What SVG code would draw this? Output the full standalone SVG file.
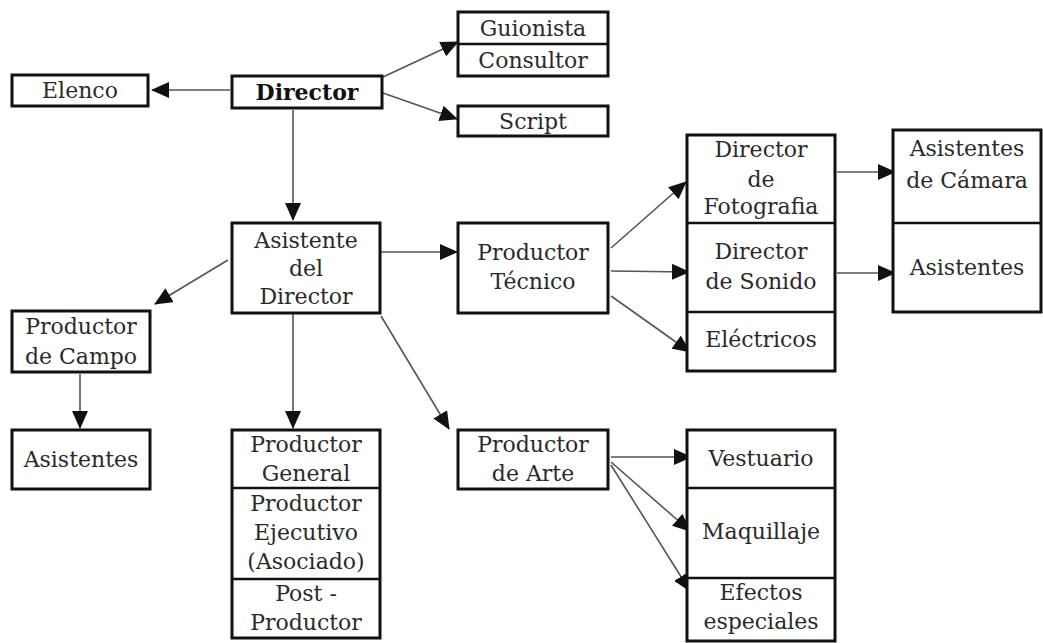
<svg xmlns="http://www.w3.org/2000/svg" width="1043" height="643" viewBox="0 0 1043 643">
<defs>
<style>
.b{fill:#fff;stroke:#111;stroke-width:3}
.d{stroke:#111;stroke-width:2.5}
text{font-family:"DejaVu Serif","Liberation Serif",serif;font-size:22px;fill:#2a2a2a;text-anchor:middle}
.bold{font-weight:bold;fill:#111}
.c line{stroke:#555;stroke-width:1.6;marker-end:url(#ah)}
</style>
<marker id="ah" markerUnits="userSpaceOnUse" markerWidth="18" markerHeight="16" refX="17" refY="8" orient="auto">
<path d="M0,0 L18,8 L0,16 z" fill="#111"/>
</marker>
</defs>
<rect width="1043" height="643" fill="#fff"/>
<g class="c" id="connectors">
<line x1="230" y1="90" x2="152" y2="90"/>
<line x1="383" y1="77" x2="458" y2="42"/>
<line x1="383" y1="93" x2="457" y2="119"/>
<line x1="293" y1="110" x2="293" y2="220"/>
<line x1="381" y1="252" x2="457" y2="252"/>
<line x1="228" y1="260" x2="155" y2="304"/>
<line x1="293" y1="314" x2="293" y2="428"/>
<line x1="381" y1="316" x2="449" y2="429"/>
<line x1="80" y1="374" x2="80" y2="428"/>
<line x1="611" y1="248" x2="686" y2="182"/>
<line x1="611" y1="271" x2="689" y2="272"/>
<line x1="611" y1="296" x2="690" y2="352"/>
<line x1="837" y1="172" x2="895" y2="172"/>
<line x1="837" y1="273" x2="895" y2="273"/>
<line x1="611" y1="457" x2="691" y2="457"/>
<line x1="611" y1="462" x2="690" y2="531"/>
<line x1="611" y1="465" x2="690" y2="591"/>
</g>
<g id="guionista-consultor">
<rect class="b" x="458" y="12" width="150" height="64"/>
<line class="d" x1="458" y1="44" x2="608" y2="44"/>
<text x="533" y="36">Guionista</text>
<text x="533" y="68">Consultor</text>
</g>
<g id="elenco">
<rect class="b" x="12" y="75" width="136" height="31"/>
<text x="80" y="98">Elenco</text>
</g>
<g id="director">
<rect class="b" x="232" y="76" width="150" height="32"/>
<text class="bold" x="307" y="100">Director</text>
</g>
<g id="script">
<rect class="b" x="458" y="106" width="150" height="30"/>
<text x="533" y="129">Script</text>
</g>
<g id="asistente-director">
<rect class="b" x="232" y="223" width="148" height="90"/>
<text x="306" y="248">Asistente</text>
<text x="306" y="276">del</text>
<text x="306" y="304">Director</text>
</g>
<g id="productor-tecnico">
<rect class="b" x="458" y="223" width="150" height="90"/>
<text x="533" y="260">Productor</text>
<text x="533" y="289">Técnico</text>
</g>
<g id="direccion-tecnica">
<rect class="b" x="687" y="135" width="148" height="236"/>
<line class="d" x1="687" y1="223" x2="835" y2="223"/>
<line class="d" x1="687" y1="312" x2="835" y2="312"/>
<text x="761" y="157">Director</text>
<text x="761" y="187">de</text>
<text x="761" y="214">Fotografia</text>
<text x="761" y="259">Director</text>
<text x="761" y="289">de Sonido</text>
<text x="761" y="347">Eléctricos</text>
</g>
<g id="asistentes-camara">
<rect class="b" x="893" y="130" width="148" height="182"/>
<line class="d" x1="893" y1="223" x2="1041" y2="223"/>
<text x="967" y="156">Asistentes</text>
<text x="967" y="188">de Cámara</text>
<text x="967" y="275">Asistentes</text>
</g>
<g id="productor-campo">
<rect class="b" x="12" y="311" width="138" height="61"/>
<text x="81" y="334">Productor</text>
<text x="81" y="364">de Campo</text>
</g>
<g id="asistentes-campo">
<rect class="b" x="12" y="430" width="138" height="59"/>
<text x="81" y="467">Asistentes</text>
</g>
<g id="productores">
<rect class="b" x="232" y="430" width="148" height="208"/>
<line class="d" x1="232" y1="488" x2="380" y2="488"/>
<line class="d" x1="232" y1="579" x2="380" y2="579"/>
<text x="306" y="452">Productor</text>
<text x="306" y="481">General</text>
<text x="306" y="511">Productor</text>
<text x="306" y="540">Ejecutivo</text>
<text x="306" y="569">(Asociado)</text>
<text x="306" y="601">Post -</text>
<text x="306" y="630">Productor</text>
</g>
<g id="productor-arte">
<rect class="b" x="458" y="430" width="150" height="59"/>
<text x="533" y="452">Productor</text>
<text x="533" y="481">de Arte</text>
</g>
<g id="arte">
<rect class="b" x="687" y="430" width="148" height="211"/>
<line class="d" x1="687" y1="488" x2="835" y2="488"/>
<line class="d" x1="687" y1="578" x2="835" y2="578"/>
<text x="761" y="466">Vestuario</text>
<text x="761" y="539">Maquillaje</text>
<text x="761" y="600">Efectos</text>
<text x="761" y="629">especiales</text>
</g>
</svg>
